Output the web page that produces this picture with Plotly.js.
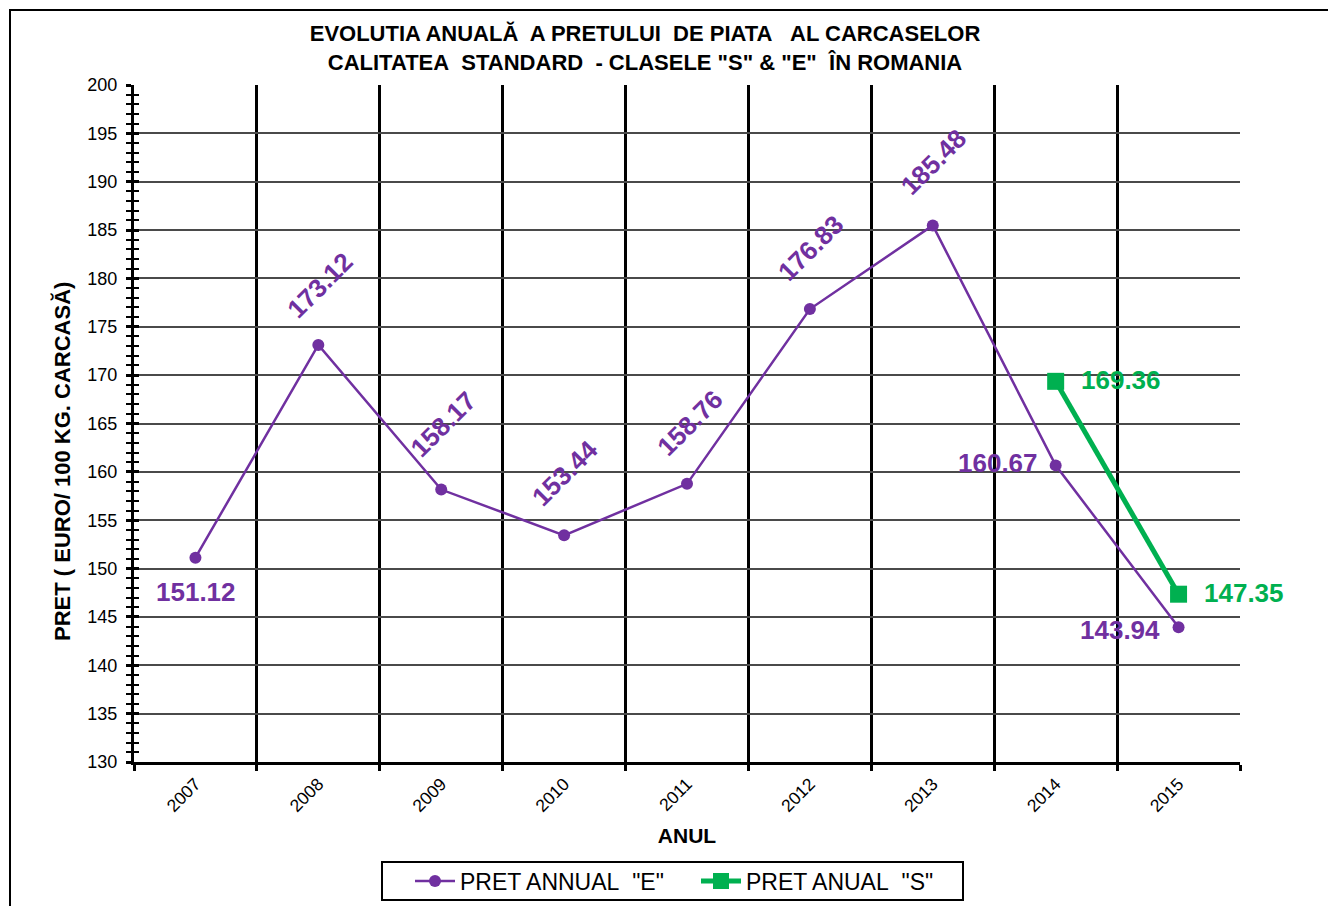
<!DOCTYPE html>
<html>
<head>
<meta charset="utf-8">
<script src="https://cdn.plot.ly/plotly-3.0.1.min.js"></script>
<style>
html,body{margin:0;padding:0;background:#fff;}
#chart{position:absolute;left:0;top:0;width:1328px;height:906px;}
#frame{position:absolute;left:9px;top:9px;width:1400px;height:1000px;border-left:2px solid #000;border-top:2px solid #000;pointer-events:none;}
</style>
</head>
<body>
<div id="chart"></div>
<div id="frame"></div>
<script>
// ---- data ----
const years = ["2007","2008","2009","2010","2011","2012","2013","2014","2015"];
const pretE = [151.12, 173.12, 158.17, 153.44, 158.76, 176.83, 185.48, 160.67, 143.94];
const pretS = [null, null, null, null, null, null, null, 169.36, 147.35];
const nameE = 'PRET ANNUAL\u00A0\u00A0"E"';
const nameS = 'PRET ANUAL\u00A0\u00A0"S"';
const yTitle = 'PRET ( EURO/ 100 KG. CARCASĂ)';
const xTitle = 'ANUL';

// ---- label placement (styling only) ----
const eAngle = [0, -45, -45, -45, -45, -45, -45, 0, 0];
const eDx = [1, 2, 2, 1, 3, 1, 1, -58, -59];
const eDy = [-34, 60, 66, 62, 61, 61, 63, 2, -3];
const sDx = 65, sDy = 1;

const purple = '#7030A0', green = '#00B050';
const F = 'Liberation Sans, Arial, sans-serif';

const annotations = [];
pretE.forEach((v, i) => {
  annotations.push({
    x: i, y: v, xref: 'x', yref: 'y', text: v.toFixed(2), showarrow: false,
    textangle: eAngle[i], xshift: eDx[i], yshift: eDy[i],
    font: {family: F, size: 26, color: purple, weight: 'bold'}
  });
});
pretS.forEach((v, i) => {
  if (v === null) return;
  annotations.push({
    x: i, y: v, xref: 'x', yref: 'y', text: v.toFixed(2), showarrow: false,
    xshift: sDx, yshift: sDy,
    font: {family: F, size: 26, color: green, weight: 'bold'}
  });
});
// y axis title placed as annotation (off-centre like the original)
annotations.push({
  xref: 'paper', yref: 'paper', x: (62 - 134) / 1106, y: (762 - 462) / 677,
  xanchor: 'center', yanchor: 'middle', showarrow: false, textangle: -90,
  text: yTitle, font: {family: F, size: 22, weight: 'bold', color: '#000'}
});

const traces = [
  {x: years, y: pretE, name: nameE, type: 'scatter', mode: 'lines+markers',
   line: {color: purple, width: 2.5}, marker: {color: purple, size: 12, symbol: 'circle'}},
  {x: years, y: pretS, name: nameS, type: 'scatter', mode: 'lines+markers',
   line: {color: green, width: 5}, marker: {color: green, size: 17, symbol: 'square'}},
  {x: years, y: pretE, yaxis: 'y2', type: 'scatter', mode: 'none', showlegend: false, hoverinfo: 'skip'}
];

const legendBox = {x0: 382, x1: 963, y0: 862, y1: 900}; // px, frame of the legend

const layout = {
  width: 1328, height: 906,
  margin: {l: 134, r: 88, t: 85, b: 144, autoexpand: false},
  paper_bgcolor: '#fff', plot_bgcolor: '#fff',
  font: {family: F, color: '#000'},
  title: {
    text: 'EVOLUTIA ANUALĂ\u00A0 A PRETULUI\u00A0 DE PIATA\u00A0\u00A0 AL CARCASELOR<br>CALITATEA\u00A0 STANDARD\u00A0 - CLASELE "S" &amp; "E"\u00A0 ÎN ROMANIA',
    font: {family: F, size: 22, weight: 'bold', color: '#000'},
    xref: 'container', x: 645/1328, xanchor: 'center',
    yref: 'container', y: 1 - 41/906, yanchor: 'top'
  },
  xaxis: {
    type: 'category', tickson: 'boundaries', range: [-0.5, 8.5],
    showgrid: true, gridcolor: '#000', gridwidth: 3,
    showline: true, linecolor: '#000', linewidth: 3,
    ticks: 'outside', ticklen: 6, tickwidth: 3, tickcolor: '#000',
    tickangle: -45, tickfont: {family: F, size: 17.5, color: '#000'}, ticklabelstandoff: 2,
    title: {text: xTitle, font: {family: F, size: 21, weight: 'bold'}, standoff: 14},
    automargin: false, zeroline: false, fixedrange: true
  },
  yaxis: {
    range: [130, 200], dtick: 5, tick0: 130,
    showgrid: true, gridcolor: '#4a4a4a', gridwidth: 2,
    showline: true, linecolor: '#000', linewidth: 3,
    ticks: 'outside', ticklen: 5, tickwidth: 3, tickcolor: '#000',
    minor: {dtick: 1, ticks: 'outside', ticklen: 5, tickwidth: 2, tickcolor: '#000', showgrid: false},
    tickfont: {family: F, size: 18, color: '#000'}, ticklabelstandoff: 5,
    automargin: false, zeroline: false, fixedrange: true
  },
  yaxis2: {
    overlaying: 'y', side: 'left', range: [130, 200], dtick: 5, tick0: 130,
    showgrid: false, showline: false, showticklabels: false,
    ticks: 'inside', ticklen: 5, tickwidth: 3, tickcolor: '#000',
    minor: {dtick: 1, ticks: 'inside', ticklen: 5, tickwidth: 2, tickcolor: '#000', showgrid: false},
    zeroline: false, fixedrange: true
  },
  legend: {
    orientation: 'h', xref: 'container', yref: 'container',
    x: 410/1328, xanchor: 'left',
    y: 1 - 881/906, yanchor: 'middle',
    borderwidth: 0, bgcolor: 'rgba(0,0,0,0)',
    font: {family: F, size: 23, color: '#000'},
    itemwidth: 40, entrywidth: 231, entrywidthmode: 'pixels'
  },
  shapes: [{
    type: 'rect', xref: 'paper', yref: 'paper',
    x0: (legendBox.x0 - 134) / 1106, x1: (legendBox.x1 - 134) / 1106,
    y0: (762 - legendBox.y1) / 677, y1: (762 - legendBox.y0) / 677,
    line: {color: '#000', width: 2}, fillcolor: 'rgba(0,0,0,0)', layer: 'above'
  }],
  annotations: annotations,
  showlegend: true
};

Plotly.newPlot('chart', traces, layout, {staticPlot: true, displayModeBar: false});
</script>
</body>
</html>
